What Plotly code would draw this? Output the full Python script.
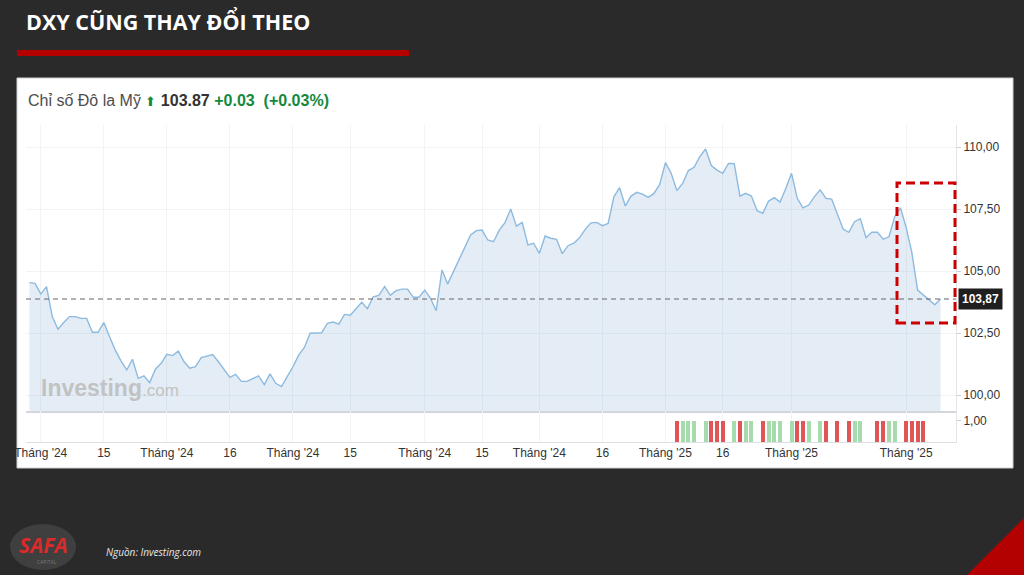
"""
DXY chart (Investing.com style) on a dark slide background
"""

import plotly.graph_objects as go

W, H = 1024, 575

# daily closes of the US dollar index
dxy_close = [
    104.53, 104.50, 104.07, 104.37, 103.16, 102.65, 102.92, 103.16, 103.16, 103.09,
    103.09, 102.53, 102.53, 102.92, 102.35, 101.81, 101.38, 101.01, 101.44, 100.67,
    100.77, 100.50, 101.04, 101.28, 101.64, 101.59, 101.77, 101.34, 101.08, 101.14,
    101.51, 101.57, 101.63, 101.34, 101.04, 100.71, 100.83, 100.55, 100.55, 100.66,
    100.77, 100.42, 100.85, 100.47, 100.34, 100.74, 101.14, 101.61, 101.92, 102.49,
    102.50, 102.51, 102.89, 102.94, 102.86, 103.25, 103.22,
    103.50, 103.74, 103.48, 103.96, 104.02, 104.37, 104.02, 104.21, 104.27, 104.27,
    103.94, 103.94, 104.23, 103.90, 103.40, 105.04, 104.48, 104.97, 105.51, 105.98,
    106.45, 106.63, 106.65, 106.25, 106.18, 106.65, 106.95, 107.50, 106.81, 106.96,
    106.05, 106.12, 105.71, 106.41, 106.32, 106.28, 105.70, 106.02, 106.12, 106.34,
    106.68, 106.94, 106.96, 106.83, 106.92, 107.99,
    108.36, 107.62, 108.02, 108.17, 108.10, 107.97, 108.13, 108.49, 109.37, 108.94,
    108.24, 108.53, 109.05, 109.18, 109.61, 109.92, 109.25, 109.07, 108.94, 109.34,
    109.33, 108.02, 108.13, 108.02, 107.43, 107.33, 107.82, 107.96, 107.78, 108.33,
    108.94, 107.93, 107.55, 107.66, 108.00, 108.27, 107.93, 107.90, 107.26, 106.69,
    106.56, 106.99, 107.11, 106.34, 106.56, 106.56, 106.28, 106.38, 107.19, 107.55,
    106.76, 105.74, 104.23, 104.03, 103.83, 103.64, 103.87,
]
last_close = 103.87

# volume panel: day index, direction, value
vol_days = [113, 114, 115, 116, 118, 119, 120, 121, 123, 124, 125, 126, 128, 129,
            130, 131, 133, 134, 135, 136, 138, 139, 141, 143, 144, 145, 148, 149,
            150, 151, 153, 154, 155, 156]
vol_dir = ['down', 'up', 'up', 'up', 'up', 'down', 'down', 'down', 'up', 'down',
           'up', 'up', 'down', 'up', 'up', 'up', 'up', 'down', 'down', 'up',
           'up', 'down', 'down', 'down', 'up', 'up', 'down', 'down', 'up', 'up',
           'down', 'down', 'down', 'down']
vol_value = [1.0] * len(vol_days)

# x axis labels (day index -> label)
tick_days = [2, 13, 24, 35, 46, 56, 69, 79, 89, 100, 111, 121, 133, 153]
tick_labels = ["Tháng '24", "15", "Tháng '24", "16", "Tháng '24", "15",
               "Tháng '24", "15", "Tháng '24", "16", "Tháng '25", "16",
               "Tháng '25", "Tháng '25"]
price_ticks = [100.0, 102.5, 105.0, 107.5, 110.0]


def px(x):
    return x / W


def py(y):
    return 1 - y / H


days = list(range(len(dxy_close)))
font = "Liberation Sans, Arial, sans-serif"

fig = go.Figure()

fig.add_trace(go.Scatter(
    x=days, y=dxy_close, mode='lines', fill='tozeroy',
    line=dict(color='#8dbadf', width=1.4),
    fillcolor='rgba(120,165,210,0.2)',
    xaxis='x', yaxis='y', hoverinfo='skip', showlegend=False))

bar_colors = ['#e05656' if d == 'down' else '#a6dbad' for d in vol_dir]
fig.add_trace(go.Bar(
    x=vol_days, y=vol_value, marker_color=bar_colors, width=0.7,
    marker_line_width=0, xaxis='x2', yaxis='y2', showlegend=False))

x_dom = [px(26), px(956)]
x_range = [-0.58, 161.7]

fig.update_layout(
    width=W, height=H,
    margin=dict(l=0, r=0, t=0, b=0, autoexpand=False),
    paper_bgcolor='#2a2a2a',
    plot_bgcolor='white',
    separators=',.',
    font=dict(family=font, size=12, color='#333333'),
    bargap=0,
    xaxis=dict(domain=x_dom, range=x_range, anchor='y', automargin=False,
               tickvals=tick_days, showticklabels=False,
               showgrid=True, gridcolor='#f1f3f5', zeroline=False,
               showline=True, linecolor='#d3d6da', linewidth=2),
    xaxis2=dict(domain=x_dom, range=x_range, anchor='y2', matches='x',
                automargin=False,
                tickvals=tick_days, ticktext=tick_labels,
                showgrid=True, gridcolor='#f1f3f5', zeroline=False,
                showline=True, linecolor='#dde0e3', linewidth=1,
                tickfont=dict(size=12, color='#333333')),
    yaxis=dict(domain=[py(411), py(125)], range=[99.355, 110.887],
               side='right', anchor='x', automargin=False,
               tickvals=price_ticks,
               tickformat='.2f', showgrid=True, gridcolor='#f1f3f5',
               zeroline=False, showline=True, linecolor='#e2e4e7',
               ticks='outside', ticklen=4, tickcolor='#d0d0d0',
               tickfont=dict(size=12, color='#333333')),
    yaxis2=dict(domain=[py(442), py(411)], range=[0, 1.45],
                side='right', anchor='x2', automargin=False,
                tickvals=[1.0],
                tickformat='.2f', showgrid=False, zeroline=False,
                showline=True, linecolor='#e2e4e7',
                ticks='outside', ticklen=4, tickcolor='#d0d0d0',
                tickfont=dict(size=12, color='#333333')),
)

shapes = [
    # white chart panel
    dict(type='rect', xref='paper', yref='paper', layer='below',
         x0=px(17), x1=px(1013), y0=py(468), y1=py(78),
         fillcolor='white', line=dict(color='#cfcfcf', width=1)),
    # red bar under the title
    dict(type='rect', xref='paper', yref='paper',
         x0=px(17), x1=px(409), y0=py(56), y1=py(50),
         fillcolor='#b50000', line=dict(width=0)),
    # red corner at bottom right
    dict(type='path', xref='paper', yref='paper',
         path=f"M {px(967)} {py(575)} L {px(1024)} {py(518)} L {px(1024)} {py(575)} Z",
         fillcolor='#b30000', line=dict(width=0)),
    # soft glow behind the logo
    dict(type='circle', xref='paper', yref='paper',
         x0=px(10), x1=px(76), y0=py(570), y1=py(524),
         fillcolor='rgba(255,255,255,0.10)', line=dict(width=0)),
    # last price dashed line
    dict(type='line', xref='x domain', yref='y', x0=0, x1=1,
         y0=last_close, y1=last_close,
         line=dict(color='#666666', width=1, dash='5px,4px')),
    # highlight box around the recent drop
    dict(type='rect', xref='paper', yref='paper',
         x0=px(897), x1=px(955), y0=py(323), y1=py(183),
         line=dict(color='#cc0000', width=3, dash='9px,5px')),
]
fig.update_layout(shapes=shapes)

annotations = [
    dict(text="<b>DXY CŨNG THAY ĐỔI THEO</b>", xref='paper', yref='paper',
         x=px(24), y=py(21), xanchor='left', yanchor='middle', showarrow=False,
         font=dict(family="Open Sans, sans-serif", size=21.5, color='white')),
    dict(text="Chỉ số Đô la Mỹ <span style='color:#14893c;font-size:13px'>⬆</span> "
              "<b style='color:#333333'>103.87</b> "
              "<b style='color:#14893c'>+0.03 &nbsp;(+0.03%)</b>",
         xref='paper', yref='paper', x=px(26), y=py(100),
         xanchor='left', yanchor='middle', showarrow=False,
         font=dict(family=font, size=16, color='#4d4d4d')),
    dict(text="<b>Investing</b><span style='font-size:17px'>.com</span>",
         xref='paper', yref='paper', x=px(39), y=py(388),
         xanchor='left', yanchor='middle', showarrow=False,
         font=dict(family=font, size=23, color='#c2c2c2')),
    dict(text=f"<b>{last_close:.2f}</b>".replace('.', ','),
         xref='paper', yref='y', x=px(958), y=last_close,
         xanchor='left', yanchor='middle', showarrow=False,
         bgcolor='#1f1f1f', borderpad=3,
         font=dict(family=font, size=12, color='white')),
    dict(text="<b><i>SAFA</i></b>", xref='paper', yref='paper',
         x=px(43), y=py(545), xanchor='center', yanchor='middle',
         showarrow=False,
         font=dict(family="Open Sans, sans-serif", size=21, color='#d92b2b')),
    dict(text="CAPITAL", xref='paper', yref='paper',
         x=px(47), y=py(562), xanchor='center', yanchor='middle',
         showarrow=False,
         font=dict(family="Open Sans, sans-serif", size=5, color='#777777')),
    dict(text="<i>Nguồn: Investing.com</i>", xref='paper', yref='paper',
         x=px(104), y=py(552), xanchor='left', yanchor='middle',
         showarrow=False,
         font=dict(family="Open Sans, sans-serif", size=10, color='#e8e8e8')),
]
fig.update_layout(annotations=annotations)

fig.write_html("out.html", config={'displayModeBar': False},
               post_script="document.body.style.margin='0';"
                           "document.body.style.overflow='hidden';")
